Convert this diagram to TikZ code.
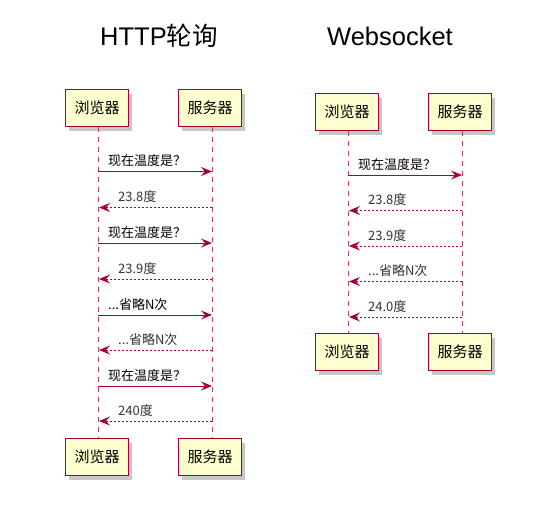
\documentclass[tikz,border=0pt]{standalone}
\usepackage{fontspec}
\setmainfont{Liberation Sans}
\newfontfamily\cjk{Noto Sans CJK SC}
\usetikzlibrary{arrows.meta}
\definecolor{puml}{HTML}{A80036}
\definecolor{pfill}{HTML}{FEFECE}
\newcommand\omitN{...省略N次}
\tikzset{
  actor/.style={draw=puml, line width=1.3pt, fill=pfill, minimum width=63pt, minimum height=37pt, inner sep=0pt, font=\cjk\fontsize{15}{15}\selectfont},
  shadowbox/.style={fill=black!22, minimum width=63pt, minimum height=37pt, inner sep=0pt},
  life/.style={draw=puml!75, line width=1pt, dash pattern=on 5pt off 5pt},
  msg/.style={draw=puml, line width=1pt, -{Stealth[length=11pt,width=9pt,inset=4pt]}},
  ret/.style={draw=puml, line width=1pt, dash pattern=on 2pt off 2pt, -{Stealth[length=11pt,width=9pt,inset=4pt]}},
  mlabel/.style={anchor=south west, inner sep=0pt, font=\cjk\fontsize{13}{13}\selectfont, text=black!80},
  title/.style={inner sep=0pt, font=\fontsize{25.5}{27}\selectfont}
}
\begin{document}
\begin{tikzpicture}[x=1pt,y=-1pt]
\useasboundingbox (0,0) rectangle (559,514);
\fill[white] (0,0) rectangle (559,514);
% titles
\node[title] (t1) at (159,36) {HTTP{\cjk 轮询}};
\node[title] (t2) at (390,36) {Websocket};

% ---- left diagram ----
\foreach \x/\y in {100/112, 213/112, 100/461, 213/461} \node[shadowbox] at (\x,\y) {};
\node[actor] (b1) at (97,108) {浏览器};
\node[actor] (s1) at (210,108) {服务器};
\node[actor] (b2) at (97,457) {浏览器};
\node[actor] (s2) at (210,457) {服务器};
\draw[life] ([xshift=1pt]b1.south) -- ([xshift=1pt]b2.north);
\draw[life] ([xshift=2pt]s1.south) -- ([xshift=2pt]s2.north);

\foreach \i/\y/\t in {1/171.5/现在温度是？, 3/243/现在温度是？, 5/315/\omitN, 7/386/现在温度是？}{
  \coordinate (lf\i) at (98,\y);
  \coordinate (lt\i) at (212,\y);
  \draw[msg] (lf\i) -- (lt\i);
  \node[mlabel, text=black] at (108,\y-4.5) {\t};
}
\foreach \i/\y/\t in {2/207.5/23.8度, 4/279/23.9度, 6/350/\omitN, 8/421/240度}{
  \coordinate (lf\i) at (212,\y);
  \coordinate (lt\i) at (99,\y);
  \draw[ret] (lf\i) -- (lt\i);
  \node[mlabel] at (118,\y-4.5) {\t};
}

% ---- right diagram ----
\foreach \x/\y in {350/116, 463/116, 350/356, 463/356} \node[shadowbox] at (\x,\y) {};
\node[actor] (b3) at (347,112) {浏览器};
\node[actor] (s3) at (460,112) {服务器};
\node[actor] (b4) at (347,352) {浏览器};
\node[actor] (s4) at (460,352) {服务器};
\draw[life] ([xshift=1pt]b3.south) -- ([xshift=1pt]b4.north);
\draw[life] ([xshift=2pt]s3.south) -- ([xshift=2pt]s4.north);

\coordinate (rf1) at (348,175);
\coordinate (rt1) at (462,175);
\draw[msg] (rf1) -- (rt1);
\node[mlabel, text=black] at (358,170.5) {现在温度是？};
\foreach \i/\y/\t in {2/210.5/23.8度, 3/246/23.9度, 4/281.5/\omitN, 5/317/24.0度}{
  \coordinate (rf\i) at (462,\y);
  \coordinate (rt\i) at (349,\y);
  \draw[ret] (rf\i) -- (rt\i);
  \node[mlabel] at (368,\y-4.5) {\t};
}
\end{tikzpicture}
\end{document}
